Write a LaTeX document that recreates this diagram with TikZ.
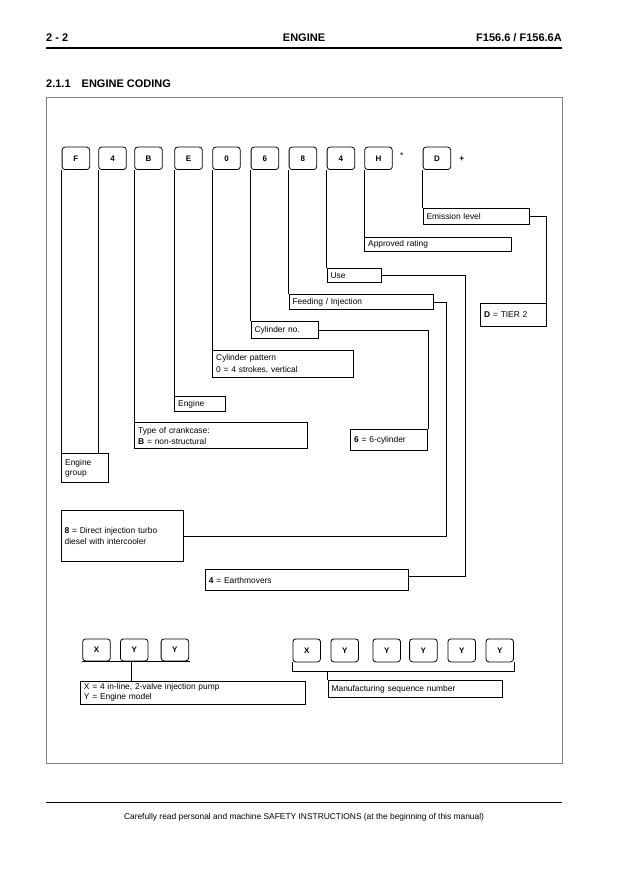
\documentclass[tikz,border=0pt]{standalone}
\usepackage{fontspec}
\setmainfont{Liberation Sans}
\usepackage{tikz}

\newcommand\hdfont{\fontsize{11}{13}\selectfont\bfseries}
\newcommand\lbfont{\fontsize{8.4}{10.6}\selectfont}

\begin{document}
\begin{tikzpicture}[
  x=1pt, y=-1pt,
  code/.style={draw, line width=.8pt, rounded corners=3pt, anchor=north west,
               minimum width=27.6pt, minimum height=22.5pt, inner sep=0pt,
               font=\fontsize{8}{9}\selectfont\bfseries},
  lbl/.style={draw, line width=.8pt, anchor=north west, align=left,
              inner xsep=3.5pt, inner ysep=0pt, font=\lbfont},
  conn/.style={line width=.8pt},
  head/.style={inner sep=0pt, font=\hdfont}
]
  \useasboundingbox (0,0) rectangle (638,882);
  % page header
  \node[head, anchor=west] (page) at (46,38) {2 - 2};
  \node[head] (chapter) at (304,38) {ENGINE};
  \node[head, anchor=east] (model) at (562,38) {F156.6 / F156.6A};
  \draw[line width=1.2pt] (46,48) -- (562,48);
  \node[head, anchor=west] (section) at (46,83.5) {2.1.1\hspace{11pt}ENGINE CODING};
  \draw[gray, line width=.8pt] (46,97) rectangle (562,763);

  % engine code
  \node[code] (cF) at (61.7,146.7) {F};
  \node[code] (cFour) at (98.3,146.7) {4};
  \node[code] (cB) at (134.3,146.7) {B};
  \node[code] (cE) at (174.3,146.7) {E};
  \node[code] (cZero) at (212.3,146.7) {0};
  \node[code] (cSix) at (250.7,146.7) {6};
  \node[code] (cEight) at (288.7,146.7) {8};
  \node[code] (cUse) at (326.7,146.7) {4};
  \node[code] (cH) at (364.3,146.7) {H};
  \node[inner sep=0pt, font=\lbfont] (star) at (401.7,155.5) {*};
  \node[code] (cD) at (422.7,146.7) {D};
  \node[inner sep=0pt, font=\lbfont\bfseries] (plus) at (461.7,159) {+};

  % meanings
  \node[lbl, text width=99pt, minimum height=16pt] (emis) at (422.7,208.3) {Emission level};
  \node[lbl, text width=140pt, minimum height=14pt] (rating) at (364.3,237.3) {Approved rating};
  \node[lbl, text width=47pt, minimum height=13.7pt] (use) at (326.7,268.3) {Use};
  \node[lbl, text width=137.6pt, minimum height=15pt] (feed) at (288.7,294) {Feeding / Injection};
  \node[lbl, text width=60pt, minimum height=17pt] (cylno) at (250.7,321) {Cylinder no.};
  \node[lbl, text width=134pt, minimum height=26.7pt] (pattern) at (212.3,350.3)
    {Cylinder pattern\\[1.5pt]0 = 4 strokes, vertical};
  \node[lbl, text width=44pt, minimum height=15.6pt] (engine) at (174.3,395.7) {Engine};
  \node[lbl, text width=166pt, minimum height=26pt] (crank) at (134.3,422.3)
    {Type of crankcase:\\\textbf{B} = non-structural};
  \node[lbl, text width=39.4pt, minimum height=29pt] (group) at (61.3,453.3) {Engine\\group};
  \node[lbl, text width=58.7pt, minimum height=22.7pt] (tier) at (480.3,303.3) {\textbf{D} = TIER 2};
  \node[lbl, text width=70pt, minimum height=21pt] (sixcyl) at (350.3,429.3) {\textbf{6} = 6-cylinder};
  \node[lbl, text width=115pt, minimum height=51pt] (turbo) at (60.7,510.3)
    {\textbf{8} = Direct injection turbo\\diesel with intercooler};
  \node[lbl, text width=196.3pt, minimum height=21pt] (earth) at (205,569.3) {\textbf{4} = Earthmovers};

  % code letters to meanings
  \draw[conn] (cF.south west) -- (cF.south west |- group.north);
  \draw[conn] (cFour.south west) -- (cFour.south west |- group.north);
  \draw[conn] (cB.south west) -- (crank.north west);
  \draw[conn] (cE.south west) -- (engine.north west);
  \draw[conn] (cZero.south west) -- (pattern.north west);
  \draw[conn] (cSix.south west) -- (cylno.north west);
  \draw[conn] (cEight.south west) -- (feed.north west);
  \draw[conn] (cUse.south west) -- (use.north west);
  \draw[conn] (cH.south west) -- (rating.north west);
  \draw[conn] (cD.south west) -- (emis.north west);

  % meanings to values
  \coordinate (useX) at (465.3,0);
  \coordinate (feedX) at (446.3,0);
  \coordinate (earthIn) at ([yshift=3.5pt]earth.east);
  \draw[conn] (emis.east) -| (tier.north east);
  \draw[conn] (use.east) -| (useX |- earthIn) -- (earthIn);
  \draw[conn] (feed.east) -| (feedX |- turbo.east) -- (turbo.east);
  \draw[conn] (cylno.east) -| (sixcyl.north east);

  % serial number
  \node[code, minimum height=22pt] (bX) at (82.3,638.5) {X};
  \node[code, minimum height=22pt] (bYa) at (120,638.5) {Y};
  \node[code, minimum height=22pt] (bYb) at (160.7,638.5) {Y};
  \node[lbl, text width=218pt, minimum height=23pt, font=\fontsize{8.4}{10}\selectfont]
    (model) at (80,680.5) {X = 4 in-line, 2-valve injection pump\\Y = Engine model};
  \coordinate (leftBar) at (0,661.5);
  \draw[conn] (bX.south west) -- (bX.south west |- leftBar)
    -- (bYb.south east |- leftBar) -- (bYb.south east);
  \draw[conn] ([xshift=-2.5pt]bYa.south |- leftBar) -- ([xshift=-2.5pt]bYa.south |- model.north);

  \node[code, minimum height=23pt] (sX) at (292.5,638.5) {X};
  \node[code, minimum height=23pt] (sYa) at (330.5,638.5) {Y};
  \node[code, minimum height=23pt] (sYb) at (372.5,638.5) {Y};
  \node[code, minimum height=23pt] (sYc) at (409.2,638.5) {Y};
  \node[code, minimum height=23pt] (sYd) at (447.5,638.5) {Y};
  \node[code, minimum height=23pt] (sYe) at (485.5,638.5) {Y};
  \node[lbl, text width=167.3pt, minimum height=17pt] (sequence) at (327.7,680)
    {Manufacturing sequence number};
  \coordinate (rightBar) at (0,671);
  \draw[conn] (sX.south west) -- (sX.south west |- rightBar)
    -- (sYe.south east |- rightBar) -- (sYe.south east);
  \draw[conn] (sequence.north west) -- (sequence.north west |- rightBar);

  % page footer
  \draw[line width=1.2pt] (46,802.7) -- (562,802.7);
  \node[inner sep=0pt, font=\lbfont] (footer) at (304,817)
    {Carefully read personal and machine SAFETY INSTRUCTIONS (at the beginning of this manual)};
\end{tikzpicture}
\end{document}
